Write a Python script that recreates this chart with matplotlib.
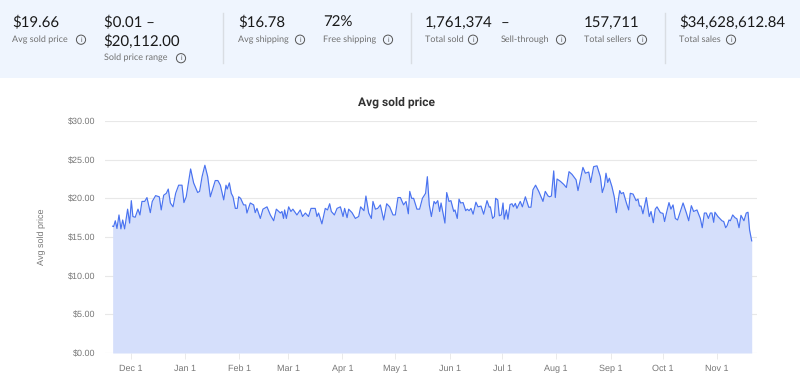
import matplotlib
matplotlib.use('Agg')
import matplotlib.pyplot as plt
from matplotlib.patches import Circle, Rectangle

plt.rcParams['text.hinting'] = 'no_hinting'
plt.rcParams['text.hinting_factor'] = 1

# avg sold price
days = [0.2, 0.75, 1.7, 2.65, 3.8, 4.9, 5.9, 7, 8.7, 9.85, 10.8, 11.7, 13, 14.6, 15.7, 16.85, 18.4, 19.7, 21.6, 22.7,
        24.6, 26.7, 27.8, 29.2, 30.7, 31.8, 33, 34.5, 36, 37.7, 39.6, 40.7, 42, 44.5, 46.2, 48.5, 49.6, 51, 52.6, 54.2,
        55.7, 58.5, 60, 61.4, 63.3, 64.6, 65.3, 66.5, 67.6, 68.6, 69.9, 71, 71.8, 72.9, 74.6, 75.8, 76.5, 78.4, 80.3, 81.2,
        82.2, 84.1, 85.6, 87.9, 89.8, 91.7, 93.2, 95.5, 96.4, 97.3, 97.9, 98.9, 100.2, 101.5, 102.6, 104.9, 106.8, 108.1, 109.7, 111.5,
        112.9, 115.3, 116.3, 117.2, 119.1, 121, 122.3, 123.5,
        124.45, 126.2, 127.7, 129.6, 131.1, 132, 133.4, 134.3, 136.2, 138.1, 140, 141.1, 143, 144.1, 145.7, 147.2, 148.1, 149.5,
        150.8, 152.3, 154.2, 155.9, 157.6, 159.5, 160.8, 162.3, 163.7, 165.5, 166.9, 168.2, 169, 170.1, 171.2, 173.1, 174.6, 176.2,
        178, 179, 180.1, 181.3, 182.8, 183.7, 184.9, 186, 186.8, 189, 190, 191.3, 192.4, 194, 194.7, 196, 197, 197.9,
        199.3, 200.8, 201.7, 202.7, 203.8, 205, 206.6, 207.8, 209.5, 211, 212.9, 214.2, 214.8, 216.1, 217.1, 217.8, 219, 219.9,
        221, 222, 222.7, 223.9, 224.8, 226, 227.1, 227.9, 229, 229.9, 231.8, 233, 234.7, 236.6, 237.9, 239, 240.5, 242.3,
        244.7, 246, 247.6, 248.5,
        249.5, 250.8, 251.7, 252.7, 254.6, 256.5, 258, 259.5, 261.2, 263.5, 264.6, 265.9, 267.4, 268.8, 270.7, 271.8, 273.5, 275.4,
        277.3, 278.4, 279.6, 280.5, 281.5, 282.4, 283.9, 285.2, 286.4, 288.3, 289.2, 290.4, 292.1, 293.4, 294.3, 295.9, 297.6, 298.7,
        299.5, 300.4, 301.5, 303.4, 305.1, 306.1, 307.4, 308.5, 309.5, 311.4, 312.9, 313.8, 314.8, 316.3, 317.4, 318.6, 319.9, 321.2,
        324.3, 326.2, 327.5, 329, 330.3, 332.2, 334.1, 335.2, 336.4, 337.5, 338.7, 339.8, 340.7, 341.7, 342.4, 344.1, 346.4, 347.4,
        348.5, 349.3, 350.4, 351.2, 352.5, 353.8, 354.9, 356.1, 357.2, 358.9, 360.2, 361.2, 362.1, 363.3]
prices = [16.4, 16.35, 17.1, 16.1, 17.85, 16.05, 17.2, 16.05, 18.6, 16.8, 19.7, 17.65, 17.55, 18.6, 17.85, 19.6, 19.6, 20.1, 18.15, 19.6,
          20.35, 20.2, 18.5, 20.4, 20.65, 21.2, 19.4, 18.9, 20.65, 21.7, 21.7, 19.45, 20.2, 23.8, 22, 20.75, 20.9, 22.8, 24.28, 22.8,
          20.2, 22.3, 22.3, 21.7, 19.8, 21.7, 21.2, 22, 20.65, 20.2, 18.7, 18.7, 20.2, 20, 19.15, 19.15, 18.1, 19.4, 19.15, 18.15,
          18.7, 17.4, 18.6, 18.9, 17.85, 17.1, 18.6, 18.1, 18.3, 17.4, 18.5, 17.4, 18.9, 18.3, 18.6, 17.85, 18.5, 17.65, 18.1, 17.65,
          18.7, 18.7, 17.65, 18.1, 16.7, 18.7, 18.5, 19.3,
          18.3, 17.85, 18.7, 18.9, 17.65, 18.7, 17.5, 18.6, 18.15, 17.4, 17.65, 18.9, 18.4, 20.3, 18.1, 17.4, 19.6, 18.6,
          18.7, 19.15, 17.2, 19.3, 18.9, 17.85, 17.85, 20.1, 20.1, 19.15, 19.6, 18, 20.9, 20, 20, 18.6, 18.6, 20,
          20.65, 22.8, 19.15, 17.65, 19.6, 19.3, 19.7, 18.3, 19.4, 16.8, 20.75, 19.6, 19.7, 18.3, 18.5, 17.4, 19.9, 19.4,
          19.45, 18.4, 18.6, 18.4, 18.7, 17.95, 19.5, 18.9, 19, 17.95, 19.7, 18.85, 18.9, 17.4, 17.65, 20, 19.8, 17.75,
          17.85, 19.4, 17.3, 18.5, 17.3, 19.2, 19.3, 18.9, 19.35, 18.7, 19.6, 18.9, 20.2, 18.85, 18.85, 21.1, 21.7, 20.9,
          19.6, 20.9, 20.3, 20.2,
          20.3, 23.55, 20.1, 22.5, 22.2, 21.8, 21.4, 23.45, 23.1, 22.4, 21, 22.4, 24, 23.25, 23.4, 22.05, 24.1, 24.2,
          22.8, 20.75, 21.6, 23.25, 22.05, 22.6, 21.5, 20.2, 18.15, 21, 20.6, 20.75, 19.4, 18.5, 20.65, 20.55, 19.7, 19.9,
          19, 19, 18, 20.1, 17.65, 18.3, 16.85, 18.6, 18.9, 18.15, 18.05, 17, 18.05, 19.45, 18.6, 19.15, 17.4, 17.2,
          19.4, 18.1, 17.1, 19.05, 18.3, 18.5, 17.4, 16.2, 18.1, 18.1, 17.4, 18.1, 18.1, 16.9, 18.2, 17.65, 17.1, 17,
          16.2, 16.45, 17.2, 17.1, 17.85, 17.5, 17.35, 16.2, 17.8, 17.1, 18.1, 18.2, 15.9, 14.5]

month_days = [10.4, 41.4, 72, 100, 130.7, 160.8, 191.7, 221.6, 252.2, 283.1, 313, 343.5]
month_labels = ['Dec 1', 'Jan 1', 'Feb 1', 'Mar 1', 'Apr 1', 'May 1', 'Jun 1', 'Jul 1', 'Aug 1', 'Sep 1', 'Oct 1', 'Nov 1']
price_ticks = [0, 5, 10, 15, 20, 25, 30]

stat_values = ['$19.66', '$0.01 –\n$20,112.00', '$16.78', '72%', '1,761,374', '–', '157,711', '$34,628,612.84']
stat_labels = ['Avg sold price', 'Sold price range', 'Avg shipping', 'Free shipping', 'Total sold', 'Sell-through',
               'Total sellers', 'Total sales']

W, H = 800, 390
fig = plt.figure(figsize=(W / 100, H / 100), dpi=100, facecolor='white')

# overlay in pixel coords for the stats band
bg = fig.add_axes([0, 0, 1, 1])
bg.set_xlim(0, W)
bg.set_ylim(H, 0)
bg.axis('off')
bg.add_patch(Rectangle((0, 0), W, 78, color='#eff5fe', lw=0))
for sx in [223, 411, 664.5]:
    bg.plot([sx, sx], [13, 63], color='#d9dde3', lw=1)

stat_x = [12.5, 103.5, 238, 323, 425, 501, 584, 679]
icon_x = [81, 181, 300, 388, 473, 561, 642, 731]
for i, val in enumerate(stat_values):
    lines = val.split('\n')
    for k, line in enumerate(lines):
        bg.text(stat_x[i], 27 + 18.5 * k, line, fontsize=10.5, family='Lato', color='#191919', va='baseline')
    ly = 42 + 18.5 * (len(lines) - 1)
    bg.text(stat_x[i], ly, stat_labels[i], fontsize=6.6, family='Lato', color='#707070', va='baseline')
    bg.add_patch(Circle((icon_x[i], ly - 2.3), 4.6, fill=False, ec='#555555', lw=0.7))
    bg.text(icon_x[i], ly - 2.3, 'i', fontsize=4.8, color='#555555', ha='center', va='center', family='Liberation Sans')

# chart, 1 day = 1.76 px and day 0 sits at px 112.3
left, right, top, bottom = 105, 757, 121, 353
ax = fig.add_axes([left / W, 1 - bottom / H, (right - left) / W, (bottom - top) / H])
ax.patch.set_alpha(0)
ax.set_xlim((left - 112.3) / 1.76, (right - 112.3) / 1.76)
ax.set_ylim(0, 30)

ax.fill_between(days, prices, 0, color='#d5dffb', lw=0, zorder=2)
ax.plot(days, prices, color='#4a73f0', lw=0.85, zorder=3)

ax.set_yticks(price_ticks)
ax.set_yticklabels([f'${p:.2f}' for p in price_ticks], fontsize=6.2, family='Liberation Sans', color='#777777')
ax.set_xticks(month_days)
ax.set_xticklabels(month_labels, fontsize=6.2, family='Liberation Sans', color='#777777')
ax.tick_params(axis='y', length=0, pad=7)
ax.tick_params(axis='x', length=4, width=0.6, color='#e6e6e6', pad=4)
ax.grid(axis='y', color='#e8e8e8', lw=0.8, zorder=1)
for s in ax.spines.values():
    s.set_visible(False)

bg.text(396, 102, 'Avg sold price', fontsize=8.7, family='Roboto', weight='bold', color='#333333', ha='center', va='center')
bg.text(41.5, 237, 'Avg sold price', fontsize=6.2, family='Liberation Sans', color='#777777', rotation=90, ha='center', va='center')

fig.savefig('out.png', dpi=100)
